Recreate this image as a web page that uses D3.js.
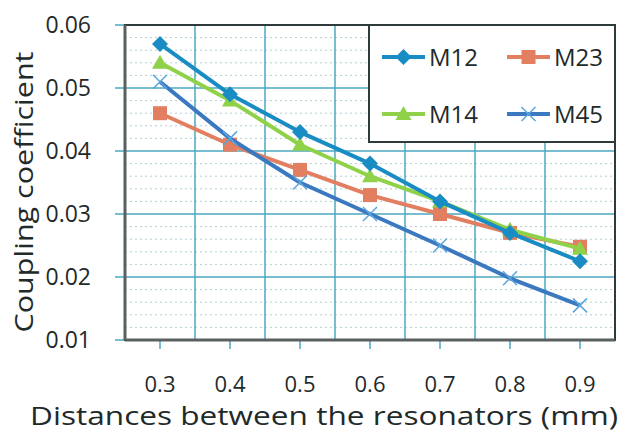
<!DOCTYPE html>
<html>
<head>
<meta charset="utf-8">
<script src="https://cdn.jsdelivr.net/npm/d3@7"></script>
<style>
  body { margin: 0; background: #fff; }
  svg text { font-family: "Open Sans", "Noto Sans", sans-serif; fill: #1f2a2a; }
</style>
</head>
<body>
<div id="chart"></div>
<script>
'use strict';

// Data
var distances = ['0.3', '0.4', '0.5', '0.6', '0.7', '0.8', '0.9'];
var m12 = [0.057, 0.049, 0.043, 0.038, 0.032, 0.027, 0.0225];
var m23 = [0.046, 0.041, 0.037, 0.033, 0.030, 0.027, 0.0248];
var m14 = [0.054, 0.048, 0.041, 0.036, 0.032, 0.0275, 0.0245];
var m45 = [0.051, 0.042, 0.035, 0.030, 0.025, 0.0198, 0.0155];
var yTicks = [0.01, 0.02, 0.03, 0.04, 0.05, 0.06];

var series = [
	{name: 'M12', values: m12, color: '#1a8cc4', marker: 'diamond'},
	{name: 'M23', values: m23, color: '#e27f60', marker: 'square'},
	{name: 'M14', values: m14, color: '#8fd24a', marker: 'triangle'},
	{name: 'M45', values: m45, color: '#3a79c0', marker: 'cross'}
];

var svgWidth = 621, svgHeight = 433;
var margin = {top: 25, right: 6, bottom: 93, left: 125};
var width = svgWidth - margin.left - margin.right;
var height = svgHeight - margin.top - margin.bottom;

var svg = d3.select('#chart').append('svg')
	.attr('width', svgWidth)
	.attr('height', svgHeight);

var g = svg.append('g')
	.attr('transform', `translate(${margin.left}, ${margin.top})`);

var x = d3.scaleBand().domain(distances).range([0, width]);
var y = d3.scaleLinear().domain([0.01, 0.06]).range([height, 0]);

// Minor horizontal grid (dotted)
var minor = d3.range(0.012, 0.06, 0.002).filter(function(d) {
	return Math.abs(d * 100 - Math.round(d * 100)) > 1e-6;
});
g.append('g').selectAll('line').data(minor).join('line')
	.attr('x1', 0).attr('x2', width)
	.attr('y1', d => y(d)).attr('y2', d => y(d))
	.attr('stroke', '#b3cfd4')
	.attr('stroke-width', 1)
	.attr('stroke-dasharray', '2,3');

// Major horizontal grid, with outward ticks
g.append('g').selectAll('line').data(yTicks).join('line')
	.attr('x1', -10).attr('x2', width)
	.attr('y1', d => y(d)).attr('y2', d => y(d))
	.attr('stroke', '#4aa8c0')
	.attr('stroke-width', 1.5);

// Vertical grid at category boundaries
g.append('g').selectAll('line').data(distances.slice(1)).join('line')
	.attr('x1', d => x(d)).attr('x2', d => x(d))
	.attr('y1', 0).attr('y2', height)
	.attr('stroke', '#4aa8c0')
	.attr('stroke-width', 1.5);

// Y axis labels
g.append('g')
	.call(d3.axisLeft(y).tickValues(yTicks).tickSize(0).tickPadding(34).tickFormat(d3.format('.2f')))
	.call(a => a.select('.domain').remove())
	.selectAll('text')
	.attr('font-size', 23)
	.style('font-family', '"Open Sans", sans-serif')
	.attr('fill', '#1f2a2a');

// X axis with ticks at category centres
g.append('g')
	.attr('transform', `translate(0, ${height})`)
	.call(d3.axisBottom(x).tickSize(9).tickPadding(27))
	.call(a => a.select('.domain').remove())
	.call(a => a.selectAll('.tick line').attr('stroke', '#4aa8c0').attr('stroke-width', 1.5))
	.selectAll('text')
	.attr('font-size', 22)
	.style('font-family', '"Open Sans", sans-serif')
	.attr('fill', '#1f2a2a');

// Plot frame
g.append('rect')
	.attr('width', width).attr('height', height)
	.attr('fill', 'none')
	.attr('stroke', '#2f3a3a')
	.attr('stroke-width', 2);
g.append('line')
	.attr('x1', 0).attr('x2', 0).attr('y1', 0).attr('y2', height)
	.attr('stroke', '#5a6060').attr('stroke-width', 3);
g.append('line')
	.attr('x1', 0).attr('x2', width).attr('y1', height).attr('y2', height)
	.attr('stroke', '#5a6060').attr('stroke-width', 3);

var cx = d => x(d) + x.bandwidth() / 2;

function drawMarker(sel, type, color) {
	if (type === 'diamond') {
		sel.append('path').attr('d', 'M0,-8L8,0L0,8L-8,0Z').attr('fill', color);
	} else if (type === 'square') {
		sel.append('rect').attr('x', -7).attr('y', -7).attr('width', 14).attr('height', 14).attr('fill', color);
	} else if (type === 'triangle') {
		sel.append('path').attr('d', 'M0,-8L8,6L-8,6Z').attr('fill', color);
	} else {
		sel.append('path').attr('d', 'M-7,-7L7,7M-7,7L7,-7')
			.attr('stroke', '#5aa6de').attr('stroke-width', 1.5).attr('fill', 'none');
	}
}

var line = d3.line()
	.x((d, i) => cx(distances[i]))
	.y(d => y(d));

// Draw order: M23, M45, M14, M12 on top
['M23', 'M45', 'M14', 'M12'].forEach(function(name) {
	var s = series.find(d => d.name === name);
	var sg = g.append('g').attr('class', 'series');
	sg.append('path')
		.datum(s.values)
		.attr('d', line)
		.attr('fill', 'none')
		.attr('stroke', s.color)
		.attr('stroke-width', 4)
		.attr('stroke-linejoin', 'round');
	s.values.forEach(function(v, i) {
		var m = sg.append('g').attr('transform', `translate(${cx(distances[i])}, ${y(v)})`);
		drawMarker(m, s.marker, s.color);
	});
});

// Legend
var legend = svg.append('g').attr('transform', 'translate(369, 25)');
legend.append('rect')
	.attr('width', 246).attr('height', 117)
	.attr('fill', '#fff')
	.attr('stroke', '#2f3a3a')
	.attr('stroke-width', 2);
series.forEach(function(s, i) {
	var col = i % 2, row = Math.floor(i / 2);
	var lg = legend.append('g')
		.attr('transform', `translate(${13 + col * 125}, ${32 + row * 57})`);
	lg.append('line')
		.attr('x1', 0).attr('x2', 43)
		.attr('stroke', s.color).attr('stroke-width', 4);
	var m = lg.append('g').attr('transform', 'translate(21.5, 0)');
	drawMarker(m, s.marker, s.color);
	lg.append('text')
		.attr('x', 47).attr('y', 0)
		.attr('dy', '0.36em')
		.attr('font-size', 24)
		.text(s.name);
});

// Axis titles
svg.append('text')
	.attr('transform', 'translate(33, 192) rotate(-90)')
	.attr('text-anchor', 'middle')
	.attr('font-size', 25)
	.attr('textLength', 281)
	.attr('lengthAdjust', 'spacingAndGlyphs')
	.text('Coupling coefficient');

svg.append('text')
	.attr('x', 324).attr('y', 425)
	.attr('text-anchor', 'middle')
	.attr('font-size', 25)
	.attr('textLength', 588)
	.attr('lengthAdjust', 'spacingAndGlyphs')
	.text('Distances between the resonators (mm)');
</script>
</body>
</html>
